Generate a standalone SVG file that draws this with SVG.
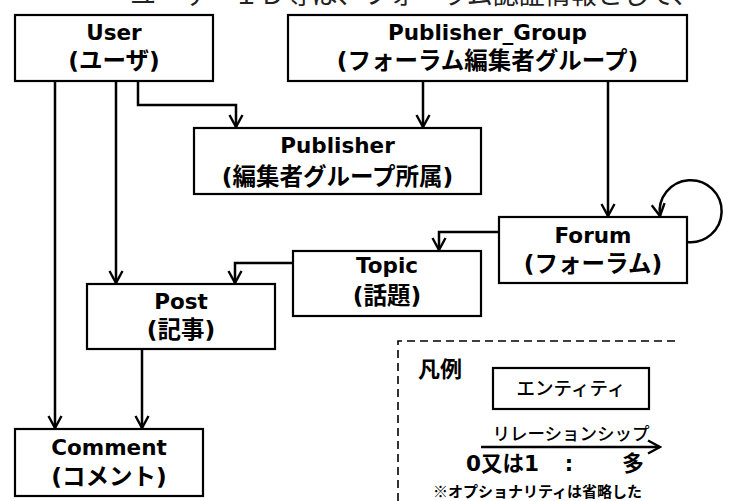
<svg xmlns="http://www.w3.org/2000/svg" width="732" height="501" viewBox="0 0 732 501">
  <style>
    .box { fill: #ffffff; stroke: #000000; stroke-width: 2.2; }
    .t1 { font-family: "DejaVu Sans", "Noto Sans CJK JP", sans-serif; font-weight: bold; font-size: 21.5px; fill: #000; text-anchor: middle; }
    .t2 { font-family: "DejaVu Sans", "Noto Sans CJK JP", sans-serif; font-weight: bold; font-size: 23.5px; fill: #000; text-anchor: middle; }
    .conn { fill: none; stroke: #000000; stroke-width: 2.5; marker-end: url(#arrow); }
    .leg { font-family: "Noto Sans CJK JP", sans-serif; fill: #000; }
  </style>
  <defs>
    <marker id="arrow" markerUnits="userSpaceOnUse" viewBox="-14 -9 16 18" refX="0" refY="0" markerWidth="16" markerHeight="18" orient="auto">
      <path d="M-12,-6.5 L0,0 L-12,6.5" fill="none" stroke="#000" stroke-width="2.4"/>
    </marker>
  </defs>
  <rect width="732" height="501" fill="#ffffff"/>

  <text x="130" y="4" font-family="Noto Sans CJK JP, sans-serif" font-size="26" fill="#222">ユーザーＩＤ等は、フォーラム認証情報として、</text>

  <g id="connectors">
    <path class="conn" d="M55,81 V428"/>
    <path class="conn" d="M116,81 V283"/>
    <path class="conn" d="M138,81 V105 H236 V127"/>
    <path class="conn" d="M423,81 V127"/>
    <path class="conn" d="M608,81 V216"/>
    <path class="conn" d="M687,242 A31,31 0 1 0 660,216"/>
    <path class="conn" d="M499,232 H439 V250"/>
    <path class="conn" d="M293,263 H235 V283"/>
    <path class="conn" d="M142,349 V428"/>
  </g>

  <g id="user">
    <rect class="box" x="15" y="15" width="198" height="66"/>
    <text class="t1" x="114" y="40">User</text>
    <text class="t2" x="114" y="69">(ユーザ)</text>
  </g>
  <g id="publisher_group">
    <rect class="box" x="288" y="15" width="399" height="66"/>
    <text class="t1" x="487.5" y="40">Publisher_Group</text>
    <text class="t2" x="487.5" y="69">(フォーラム編集者グループ)</text>
  </g>
  <g id="publisher">
    <rect class="box" x="194" y="128" width="287" height="66"/>
    <text class="t1" x="337.5" y="153">Publisher</text>
    <text class="t2" x="337.5" y="185">(編集者グループ所属)</text>
  </g>
  <g id="forum">
    <rect class="box" x="499" y="217" width="188" height="66"/>
    <text class="t1" x="593" y="243">Forum</text>
    <text class="t2" x="593" y="272">(フォーラム)</text>
  </g>
  <g id="topic">
    <rect class="box" x="293" y="251" width="188" height="65"/>
    <text class="t1" x="387" y="273">Topic</text>
    <text class="t2" x="387" y="304">(話題)</text>
  </g>
  <g id="post">
    <rect class="box" x="87" y="284" width="188" height="65"/>
    <text class="t1" x="181" y="309">Post</text>
    <text class="t2" x="181" y="338">(記事)</text>
  </g>
  <g id="comment">
    <rect class="box" x="15" y="429" width="188" height="67"/>
    <text class="t1" x="109" y="455">Comment</text>
    <text class="t2" x="109" y="485">(コメント)</text>
  </g>

  <g id="legend">
    <path d="M398,501 V341 H680" fill="none" stroke="#000" stroke-width="1.6" stroke-dasharray="8 5"/>
    <text class="leg" x="418" y="377" font-size="22" font-weight="bold">凡例</text>
    <rect class="box" x="493" y="368" width="156" height="41"/>
    <text class="leg" x="571" y="395" font-size="18.5" font-weight="500" text-anchor="middle">エンティティ</text>
    <text class="leg" x="571" y="440" font-size="17.5" font-weight="500" text-anchor="middle">リレーションシップ</text>
    <path d="M481,447 H660" fill="none" stroke="#000" stroke-width="2.6" marker-end="url(#arrow)"/>
    <text x="466" y="471" font-family="DejaVu Sans, Noto Sans CJK JP, sans-serif" font-size="21.5" font-weight="bold">0又は1</text>
    <text x="569" y="471" font-family="DejaVu Sans, Noto Sans CJK JP, sans-serif" font-size="21" font-weight="bold" text-anchor="middle">:</text>
    <text class="leg" x="622" y="471" font-size="22" font-weight="bold">多</text>
    <text class="leg" x="433" y="497" font-size="15" font-weight="bold">※オプショナリティは省略した</text>
  </g>
</svg>
